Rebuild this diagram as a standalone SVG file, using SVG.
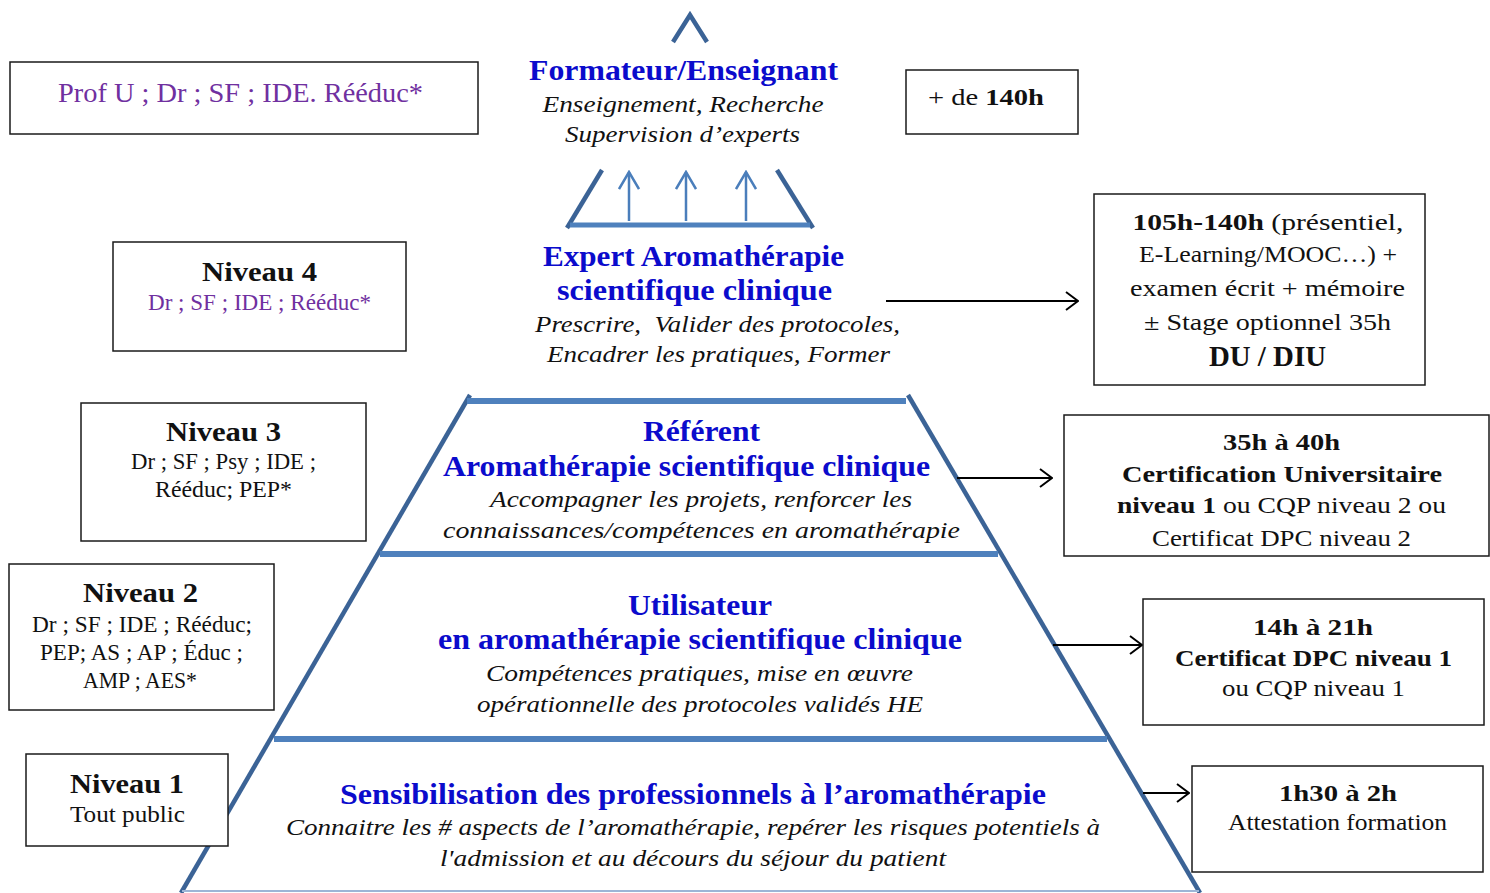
<svg xmlns="http://www.w3.org/2000/svg" width="1490" height="893" viewBox="0 0 1490 893">
<style>
text{font-family:"Liberation Serif","DejaVu Serif",serif;text-anchor:middle;fill:#111}
.t{font-weight:bold;fill:#0B0BCC;font-size:29px}
.i{font-style:italic;font-size:24px}
.b{font-weight:bold}
.nv{font-weight:bold;font-size:28px}
.s{font-size:23px}
.r{font-size:24px}
.p{fill:#7030A0}
.box{fill:#fff;stroke:#1a1a1a;stroke-width:1.5}
.edge{fill:none;stroke:#3B6396;stroke-width:4.5}
.bar{fill:none;stroke:#4F81BD;stroke-width:6}
.conn{fill:none;stroke:#000;stroke-width:2}
.up{fill:none;stroke:#4A7EBB;stroke-width:2.5}
</style>
<defs>
<marker id="ah" viewBox="0 0 14 20" refX="13" refY="10" markerWidth="14" markerHeight="20" markerUnits="userSpaceOnUse" orient="auto">
<path d="M1,1 L13,10 L1,19" fill="none" stroke="#000" stroke-width="2"/>
</marker>
<marker id="ahb" viewBox="0 0 20 22" refX="18" refY="11" markerWidth="20" markerHeight="22" markerUnits="userSpaceOnUse" orient="auto">
<path d="M1,1 L18,11 L1,21" fill="none" stroke="#4A7EBB" stroke-width="2.5"/>
</marker>
</defs>
<rect width="1490" height="893" fill="#fff"/>

<g id="pyramid">
<polyline class="edge" points="673,42 690,15 707,42"/>
<line class="edge" x1="602" y1="170" x2="567" y2="228"/>
<line class="edge" x1="777" y1="170" x2="813" y2="228"/>
<line class="bar" x1="570" y1="225" x2="810" y2="225" style="stroke-width:5"/>
<line class="edge" x1="470" y1="395" x2="181" y2="893"/>
<line class="edge" x1="908" y1="395" x2="1200" y2="893"/>
<line class="bar" x1="467" y1="401" x2="906" y2="401"/>
<line class="bar" x1="380" y1="554" x2="998" y2="554"/>
<line class="bar" x1="274" y1="739" x2="1107" y2="739"/>
<line x1="182" y1="891" x2="1199" y2="891" stroke="#9DB5D6" stroke-width="2"/>
</g>

<g id="connectors">
<line class="up" x1="629" y1="221" x2="629" y2="172" marker-end="url(#ahb)"/>
<line class="up" x1="686" y1="221" x2="686" y2="172" marker-end="url(#ahb)"/>
<line class="up" x1="746" y1="221" x2="746" y2="172" marker-end="url(#ahb)"/>
<line class="conn" x1="886" y1="301" x2="1078" y2="301" marker-end="url(#ah)"/>
<line class="conn" x1="957" y1="478" x2="1052" y2="478" marker-end="url(#ah)"/>
<line class="conn" x1="1053" y1="645" x2="1142" y2="645" marker-end="url(#ah)"/>
<line class="conn" x1="1143" y1="793" x2="1189" y2="793" marker-end="url(#ah)"/>
</g>

<g id="level5">
<text class="t" x="683.5" y="80" textLength="309" lengthAdjust="spacingAndGlyphs">Formateur/Enseignant</text>
<text class="i" x="683" y="112" textLength="281" lengthAdjust="spacingAndGlyphs">Enseignement, Recherche</text>
<text class="i" x="682.5" y="142" textLength="235" lengthAdjust="spacingAndGlyphs">Supervision d’experts</text>
</g>

<g id="level4">
<text class="t" x="693.5" y="266" textLength="301" lengthAdjust="spacingAndGlyphs">Expert Aromathérapie</text>
<text class="t" x="694.5" y="300" textLength="275" lengthAdjust="spacingAndGlyphs">scientifique clinique</text>
<text class="i" x="717.5" y="332" textLength="365" lengthAdjust="spacingAndGlyphs" xml:space="preserve">Prescrire,  Valider des protocoles,</text>
<text class="i" x="718.5" y="362" textLength="343" lengthAdjust="spacingAndGlyphs">Encadrer les pratiques, Former</text>
</g>

<g id="level3">
<text class="t" x="701.5" y="441" textLength="117" lengthAdjust="spacingAndGlyphs">Référent</text>
<text class="t" x="686.5" y="476" textLength="487" lengthAdjust="spacingAndGlyphs">Aromathérapie scientifique clinique</text>
<text class="i" x="701" y="507" textLength="422" lengthAdjust="spacingAndGlyphs">Accompagner les projets, renforcer les</text>
<text class="i" x="701.5" y="538" textLength="517" lengthAdjust="spacingAndGlyphs">connaissances/compétences en aromathérapie</text>
</g>

<g id="level2">
<text class="t" x="700" y="615" textLength="144" lengthAdjust="spacingAndGlyphs">Utilisateur</text>
<text class="t" x="700" y="649" textLength="524" lengthAdjust="spacingAndGlyphs">en aromathérapie scientifique clinique</text>
<text class="i" x="699.5" y="681" textLength="427" lengthAdjust="spacingAndGlyphs">Compétences pratiques, mise en œuvre</text>
<text class="i" x="700" y="712" textLength="446" lengthAdjust="spacingAndGlyphs">opérationnelle des protocoles validés HE</text>
</g>

<g id="level1">
<text class="t" x="693" y="804" textLength="706" lengthAdjust="spacingAndGlyphs">Sensibilisation des professionnels à l’aromathérapie</text>
<text class="i" x="693" y="835" textLength="814" lengthAdjust="spacingAndGlyphs">Connaitre les # aspects de l’aromathérapie, repérer les risques potentiels à</text>
<text class="i" x="693" y="866" textLength="506" lengthAdjust="spacingAndGlyphs">l'admission et au décours du séjour du patient</text>
</g>

<g id="who5">
<rect class="box" x="10" y="62" width="468" height="72"/>
<text class="p" x="240.5" y="102" style="font-size:28px" textLength="365" lengthAdjust="spacingAndGlyphs">Prof U ; Dr ; SF ; IDE. Rééduc*</text>
</g>
<g id="who4">
<rect class="box" x="113" y="242" width="293" height="109"/>
<text class="nv" x="259.5" y="281" textLength="115" lengthAdjust="spacingAndGlyphs">Niveau 4</text>
<text class="s p" x="259.5" y="310" textLength="223" lengthAdjust="spacingAndGlyphs">Dr ; SF ; IDE ; Rééduc*</text>
</g>
<g id="who3">
<rect class="box" x="81" y="403" width="285" height="138"/>
<text class="nv" x="223.5" y="441" textLength="115" lengthAdjust="spacingAndGlyphs">Niveau 3</text>
<text class="s" x="223.5" y="469" textLength="185" lengthAdjust="spacingAndGlyphs">Dr ; SF ; Psy ; IDE ;</text>
<text class="s" x="223.5" y="497" textLength="137" lengthAdjust="spacingAndGlyphs">Rééduc; PEP*</text>
</g>
<g id="who2">
<rect class="box" x="9" y="564" width="265" height="146"/>
<text class="nv" x="140.5" y="602" textLength="115" lengthAdjust="spacingAndGlyphs">Niveau 2</text>
<text class="s" x="142" y="632" textLength="220" lengthAdjust="spacingAndGlyphs">Dr ; SF ; IDE ; Rééduc;</text>
<text class="s" x="141.5" y="660" textLength="203" lengthAdjust="spacingAndGlyphs">PEP; AS ; AP ; Éduc ;</text>
<text class="s" x="140" y="688" textLength="114" lengthAdjust="spacingAndGlyphs">AMP ; AES*</text>
</g>
<g id="who1">
<rect class="box" x="26" y="754" width="202" height="92"/>
<text class="nv" x="127" y="793" textLength="114" lengthAdjust="spacingAndGlyphs">Niveau 1</text>
<text class="s" x="127.5" y="822" textLength="115" lengthAdjust="spacingAndGlyphs">Tout public</text>
</g>

<g id="dur5">
<rect class="box" x="906" y="70" width="172" height="64"/>
<text class="r" x="986" y="105" textLength="116" lengthAdjust="spacingAndGlyphs">+ de <tspan class="b">140h</tspan></text>
</g>
<g id="dur4">
<rect class="box" x="1094" y="194" width="331" height="191"/>
<text class="r" x="1268" y="230" textLength="271" lengthAdjust="spacingAndGlyphs"><tspan class="b">105h-140h</tspan> (présentiel,</text>
<text class="r" x="1268" y="262" textLength="258" lengthAdjust="spacingAndGlyphs">E-Learning/MOOC…) +</text>
<text class="r" x="1267.5" y="296" textLength="275" lengthAdjust="spacingAndGlyphs">examen écrit + mémoire</text>
<text class="r" x="1267.5" y="330" textLength="247" lengthAdjust="spacingAndGlyphs">± Stage optionnel 35h</text>
<text class="b" x="1267.5" y="366" style="font-size:29px" textLength="117" lengthAdjust="spacingAndGlyphs">DU / DIU</text>
</g>
<g id="dur3">
<rect class="box" x="1064" y="415" width="425" height="141"/>
<text class="r b" x="1281.5" y="450" textLength="117" lengthAdjust="spacingAndGlyphs">35h à 40h</text>
<text class="r b" x="1282" y="482" textLength="320" lengthAdjust="spacingAndGlyphs">Certification Universitaire</text>
<text class="r" x="1281.5" y="513" textLength="329" lengthAdjust="spacingAndGlyphs"><tspan class="b">niveau 1</tspan> ou CQP niveau 2 ou</text>
<text class="r" x="1281.5" y="546" textLength="259" lengthAdjust="spacingAndGlyphs">Certificat DPC niveau 2</text>
</g>
<g id="dur2">
<rect class="box" x="1143" y="599" width="341" height="126"/>
<text class="r b" x="1313" y="635" textLength="120" lengthAdjust="spacingAndGlyphs">14h à 21h</text>
<text class="r b" x="1313.5" y="666" textLength="277" lengthAdjust="spacingAndGlyphs">Certificat DPC niveau 1</text>
<text class="r" x="1313.5" y="696" textLength="183" lengthAdjust="spacingAndGlyphs">ou CQP niveau 1</text>
</g>
<g id="dur1">
<rect class="box" x="1192" y="766" width="291" height="106"/>
<text class="r b" x="1338" y="801" textLength="118" lengthAdjust="spacingAndGlyphs">1h30 à 2h</text>
<text class="r" x="1337.5" y="830" textLength="219" lengthAdjust="spacingAndGlyphs">Attestation formation</text>
</g>
</svg>
